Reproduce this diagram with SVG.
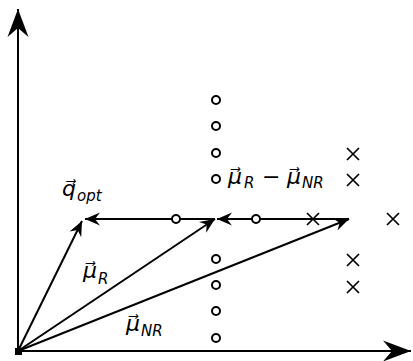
<svg xmlns="http://www.w3.org/2000/svg" width="413" height="361" viewBox="0 0 413 361">
<style>
.ln{stroke:#000;stroke-width:2;fill:none}
.ax{stroke:#000;stroke-width:2;fill:none}
.pt{stroke:#000;stroke-width:2;fill:#fff}
.xm{stroke:#000;stroke-width:1.7;fill:none}
.lb{font-family:"DejaVu Sans","Noto Sans",sans-serif;font-style:oblique;font-size:22px;fill:#000}
.sb{font-size:15px}
</style>
<defs>
<marker id="ah" markerUnits="userSpaceOnUse" markerWidth="20" markerHeight="16" viewBox="-16 -8 18 16" refX="0" refY="0" orient="auto">
<path d="M0,0 L-15,-6.5 L-10,0 L-15,6.5 Z" fill="#000"/>
</marker>
<marker id="axh" markerUnits="userSpaceOnUse" markerWidth="32" markerHeight="24" viewBox="-30 -12 32 24" refX="0" refY="0" orient="auto">
<path d="M0,0 L-28,-10.5 L-19,0 L-28,10.5 Z" fill="#000"/>
</marker>
</defs>
<g id="axes">
<line class="ax" x1="18" y1="351" x2="18" y2="9" marker-end="url(#axh)"/>
<line class="ax" x1="18" y1="351" x2="411" y2="351" marker-end="url(#axh)"/>
<rect x="15" y="348" width="7" height="7" fill="#000"/>
</g>
<g id="connectors">
<line class="ln" x1="18" y1="351" x2="82" y2="221" marker-end="url(#ah)"/>
<line class="ln" x1="18" y1="351" x2="215" y2="219" marker-end="url(#ah)"/>
<line class="ln" x1="18" y1="351" x2="349" y2="219" marker-end="url(#ah)"/>
<line class="ln" x1="349" y1="219" x2="217" y2="219" marker-end="url(#ah)"/>
<line class="ln" x1="215" y1="219" x2="85" y2="219" marker-end="url(#ah)"/>
</g>
<g id="circles">
<circle class="pt" cx="216" cy="100" r="4"/>
<circle class="pt" cx="216" cy="126" r="4"/>
<circle class="pt" cx="216" cy="153" r="4"/>
<circle class="pt" cx="216" cy="179" r="4"/>
<circle class="pt" cx="216" cy="259" r="4"/>
<circle class="pt" cx="216" cy="285" r="4"/>
<circle class="pt" cx="216" cy="311" r="4"/>
<circle class="pt" cx="216" cy="338" r="4"/>
<circle class="pt" cx="176" cy="219" r="4"/>
<circle class="pt" cx="256" cy="219" r="4"/>
</g>
<g id="crosses">
<path class="xm" d="M347,148 l12,12 M359,148 l-12,12"/>
<path class="xm" d="M347,174 l12,12 M359,174 l-12,12"/>
<path class="xm" d="M307,213 l12,12 M319,213 l-12,12"/>
<path class="xm" d="M387,213 l12,12 M399,213 l-12,12"/>
<path class="xm" d="M347,254 l12,12 M359,254 l-12,12"/>
<path class="xm" d="M347,281 l12,12 M359,281 l-12,12"/>
</g>
<g id="labels">
<text class="lb" x="62" y="196">q⃗<tspan class="sb" x="77" dy="5">opt</tspan></text>
<text class="lb" x="83" y="278">μ⃗<tspan class="sb" x="98" dy="6">R</tspan></text>
<text class="lb" x="126" y="331">μ⃗<tspan class="sb" x="141" dy="5">NR</tspan></text>
<text class="lb" x="228" y="184">μ⃗<tspan class="sb" x="244" dy="4">R</tspan><tspan x="262" dy="-4" font-style="normal">−</tspan><tspan x="287">μ⃗</tspan><tspan class="sb" x="302" dy="4">NR</tspan></text>
</g>
</svg>
